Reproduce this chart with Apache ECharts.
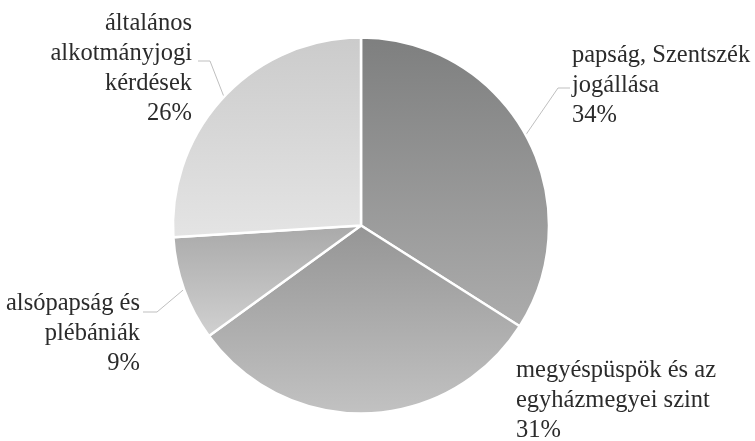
<!DOCTYPE html>
<html>
<head>
<meta charset="utf-8">
<script src="https://cdn.jsdelivr.net/npm/echarts@6/dist/echarts.min.js"></script>
<style>
html,body{margin:0;padding:0;background:#fff;}
#chart{width:755px;height:441px;}
</style>
</head>
<body>
<div id="chart"></div>
<script>
// ---- data ----
const categories = [
  'papság, Szentszék\njogállása',
  'megyéspüspök és az\negyházmegyei szint',
  'alsópapság és\nplébániák',
  'általános\nalkotmányjogi\nkérdések'
];
const values = [34, 31, 9, 26];

// ---- styles / layout (not data) ----
const sliceGradients = [
  ['#7e7f7f', '#acacac'],
  ['#959595', '#c2c2c2'],
  ['#a9a9a9', '#d1d1d1'],
  ['#cbcbcb', '#e4e4e4']
];
const labelPlacement = [
  { x: 572, y: 86,  align: 'left',  line: true,  ly: 88,  lx1: 558, lx2: 570 },
  { x: 516, y: 401, align: 'left',  line: false },
  { x: 140, y: 334, align: 'right', line: true,  ly: 312, lx1: 157, lx2: 143 },
  { x: 192, y: 69,  align: 'right', line: true,  ly: 61,  lx1: 210, lx2: 198 }
];
const LABEL_FONT = '24.5px "Liberation Serif", "DejaVu Serif", serif';

const chart = echarts.init(document.getElementById('chart'), null, { renderer: 'canvas' });

const seriesData = categories.map((name, i) => ({
  name: name,
  value: values[i],
  itemStyle: {
    color: new echarts.graphic.LinearGradient(0, 0, 0, 1, [
      { offset: 0, color: sliceGradients[i][0] },
      { offset: 1, color: sliceGradients[i][1] }
    ])
  }
}));

chart.setOption({
  backgroundColor: '#ffffff',
  animation: false,
  series: [{
    type: 'pie',
    center: [361, 225.5],
    radius: 188,
    startAngle: 90,
    clockwise: true,
    data: seriesData,
    itemStyle: { borderColor: '#ffffff', borderWidth: 2.5 },
    label: { show: false },
    labelLine: { show: false },
    emphasis: { disabled: true }
  }]
});

// Labels and leader lines, anchored on the pie geometry computed by ECharts
const pieData = chart.getModel().getSeriesByIndex(0).getData();
const total = values.reduce((a, b) => a + b, 0);
const graphics = [];
categories.forEach((name, i) => {
  const p = labelPlacement[i];
  const pct = Math.round(values[i] / total * 100);
  graphics.push({
    type: 'text',
    silent: true,
    x: p.x,
    y: p.y,
    style: {
      text: name + '\n' + pct + '%',
      font: LABEL_FONT,
      fill: '#2b2b2b',
      lineHeight: 30,
      align: p.align,
      verticalAlign: 'middle'
    }
  });
  if (p.line) {
    const lay = pieData.getItemLayout(i);
    const mid = (lay.startAngle + lay.endAngle) / 2;
    const ex = lay.cx + lay.r * Math.cos(mid);
    const ey = lay.cy + lay.r * Math.sin(mid);
    graphics.push({
      type: 'polyline',
      silent: true,
      shape: { points: [[ex, ey], [p.lx1, p.ly], [p.lx2, p.ly]] },
      style: { stroke: '#bfbfbf', lineWidth: 1, fill: null }
    });
  }
});
chart.setOption({ graphic: graphics });
</script>
</body>
</html>
